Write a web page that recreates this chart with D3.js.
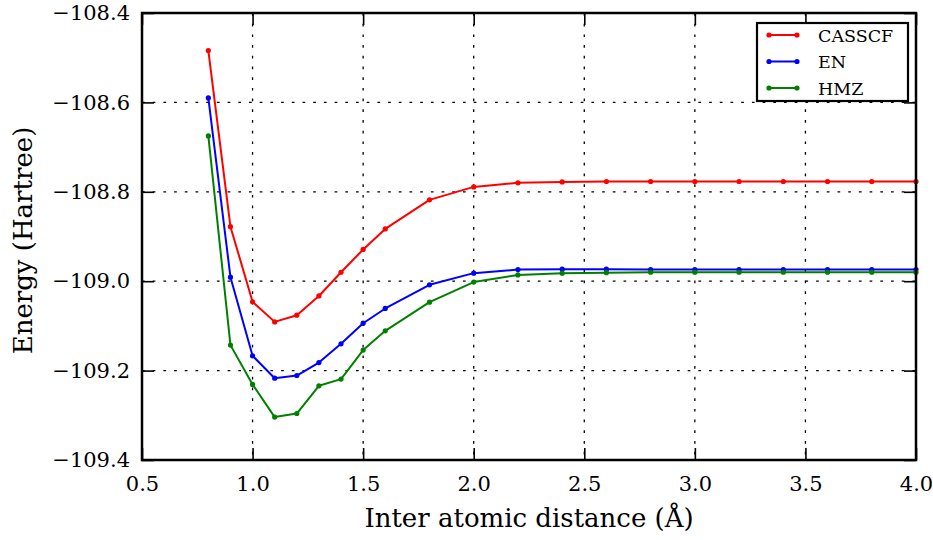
<!DOCTYPE html>
<html>
<head>
<meta charset="utf-8">
<script src="https://cdn.jsdelivr.net/npm/d3@7"></script>
<style>
  html, body { margin: 0; padding: 0; background: #fff; }
  svg text { font-family: "DejaVu Serif", serif; fill: #000; }
</style>
</head>
<body>
<svg id="chart" width="933" height="540"></svg>
<script>
const distances = [0.8, 0.9, 1.0, 1.1, 1.2, 1.3, 1.4, 1.5, 1.6, 1.8, 2.0, 2.2, 2.4, 2.6, 2.8, 3.0, 3.2, 3.4, 3.6, 3.8, 4.0];
const casscf = [-108.484, -108.878, -109.046, -109.091, -109.076, -109.033, -108.980, -108.929, -108.883, -108.818, -108.789, -108.780, -108.778, -108.777, -108.777, -108.777, -108.777, -108.777, -108.777, -108.777, -108.777];
const en = [-108.590, -108.991, -109.167, -109.217, -109.211, -109.182, -109.140, -109.094, -109.061, -109.008, -108.982, -108.974, -108.973, -108.973, -108.974, -108.974, -108.974, -108.974, -108.974, -108.974, -108.974];
const hmz = [-108.675, -109.143, -109.231, -109.304, -109.296, -109.234, -109.219, -109.154, -109.111, -109.047, -109.002, -108.986, -108.982, -108.981, -108.980, -108.980, -108.980, -108.980, -108.980, -108.980, -108.980];
const seriesNames = ["CASSCF", "EN", "HMZ"];
const seriesColors = ["#ff0000", "#0000ff", "#008000"];
const xTicks = [0.5, 1.0, 1.5, 2.0, 2.5, 3.0, 3.5, 4.0];
const yTicks = [-108.4, -108.6, -108.8, -109.0, -109.2, -109.4];
const xLabel = "Inter atomic distance (Å)";
const yLabel = "Energy (Hartree)";

const svg = d3.select("#chart");
const L = 142, R = 916, T = 13, B = 460;
const x = d3.scaleLinear().domain([0.5, 4.0]).range([L, R]);
const y = d3.scaleLinear().domain([-109.4, -108.4]).range([B, T]);
const fmt = d3.format(".1f");

// grid
const grid = svg.append("g");
grid.selectAll("line.gx").data(xTicks.slice(1, -1)).join("line")
  .attr("x1", d => x(d)).attr("x2", d => x(d)).attr("y1", T).attr("y2", B)
  .attr("stroke", "#000").attr("stroke-width", 1.3).attr("stroke-dasharray", "2.7,8");
grid.selectAll("line.gy").data(yTicks.slice(1, -1)).join("line")
  .attr("y1", d => y(d)).attr("y2", d => y(d)).attr("x1", L).attr("x2", R)
  .attr("stroke", "#000").attr("stroke-width", 1.3).attr("stroke-dasharray", "2.7,8");

// axes with inward ticks
const tickLen = 12;
const axB = svg.append("g").attr("transform", `translate(0,${B})`)
  .call(d3.axisBottom(x).tickValues(xTicks).tickFormat(fmt).tickSizeInner(-tickLen).tickSizeOuter(0).tickPadding(16));
const axT = svg.append("g").attr("transform", `translate(0,${T})`)
  .call(d3.axisTop(x).tickValues(xTicks).tickFormat("").tickSizeInner(-tickLen).tickSizeOuter(0));
const axL = svg.append("g").attr("transform", `translate(${L},0)`)
  .call(d3.axisLeft(y).tickValues(yTicks).tickFormat(fmt).tickSizeInner(-tickLen).tickSizeOuter(0).tickPadding(12));
const axR = svg.append("g").attr("transform", `translate(${R},0)`)
  .call(d3.axisRight(y).tickValues(yTicks).tickFormat("").tickSizeInner(-tickLen).tickSizeOuter(0));
[axB, axT, axL, axR].forEach(a => {
  a.select(".domain").remove();
  a.selectAll(".tick line").attr("stroke", "#000").attr("stroke-width", 1.6);
  a.selectAll("text").attr("font-family", "DejaVu Serif").attr("font-size", 21).attr("fill", "#000");
});

// data lines
const allSeries = [casscf, en, hmz];
const line = d3.line().x((d, i) => x(distances[i])).y(d => y(d));
allSeries.forEach((vals, k) => {
  const g = svg.append("g");
  g.append("path").datum(vals).attr("d", line)
    .attr("fill", "none").attr("stroke", seriesColors[k]).attr("stroke-width", 2).attr("stroke-linejoin", "round");
  g.selectAll("circle").data(vals).join("circle")
    .attr("cx", (d, i) => x(distances[i])).attr("cy", d => y(d)).attr("r", 2.6)
    .attr("fill", seriesColors[k]);
});

// frame
svg.append("rect").attr("x", L).attr("y", T).attr("width", R - L).attr("height", B - T)
  .attr("fill", "none").attr("stroke", "#000").attr("stroke-width", 2.5);

// axis labels
svg.append("text").attr("x", (L + R) / 2).attr("y", 527).attr("text-anchor", "middle")
  .attr("font-size", 26).text(xLabel);
svg.append("text").attr("transform", `translate(32,${(T + B) / 2 + 4}) rotate(-90)`).attr("text-anchor", "middle")
  .attr("font-size", 26).text(yLabel);

// legend
const lg = svg.append("g");
lg.append("rect").attr("x", 757).attr("y", 23).attr("width", 151).attr("height", 78)
  .attr("fill", "#fff").attr("stroke", "#000").attr("stroke-width", 2.2);
seriesNames.forEach((name, k) => {
  const ly = 35 + k * 26.5;
  lg.append("line").attr("x1", 769).attr("x2", 797).attr("y1", ly).attr("y2", ly)
    .attr("stroke", seriesColors[k]).attr("stroke-width", 2);
  [769, 797].forEach(cx => lg.append("circle").attr("cx", cx).attr("cy", ly).attr("r", 2.6).attr("fill", seriesColors[k]));
  lg.append("text").attr("x", 818).attr("y", ly + 6.5).attr("font-size", 17.5).text(name);
});
</script>
</body>
</html>
